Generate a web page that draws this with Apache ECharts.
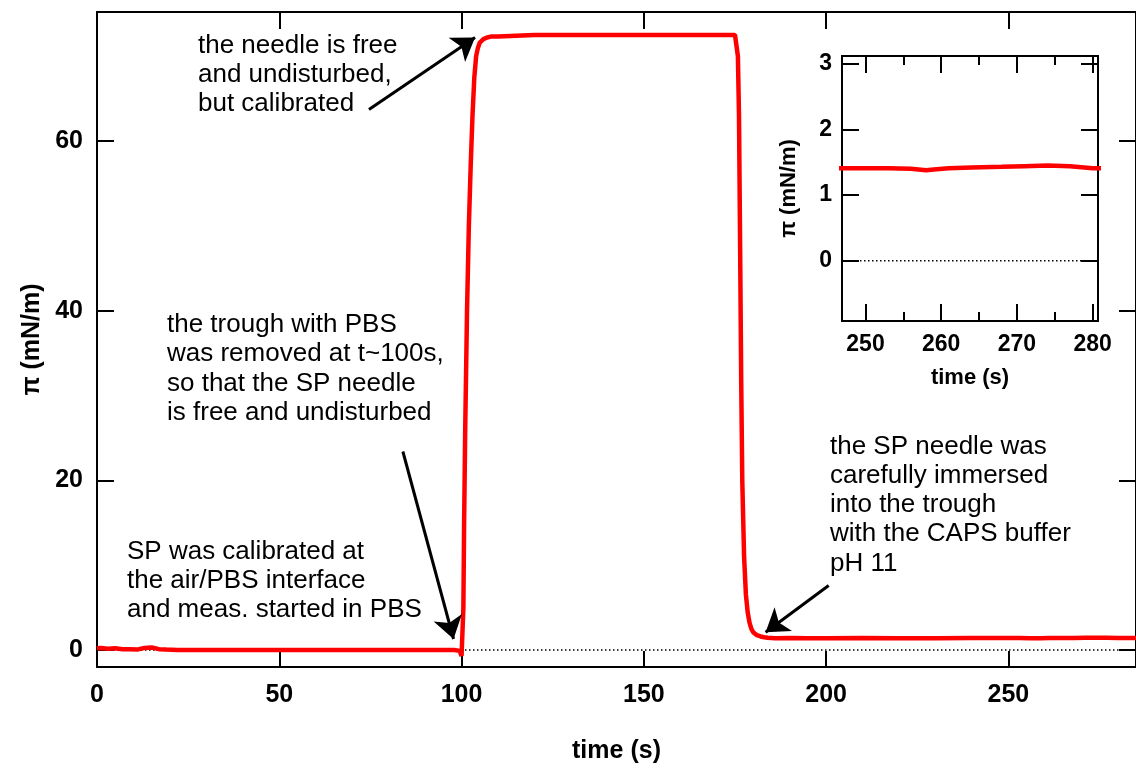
<!DOCTYPE html>
<html><head><meta charset="utf-8">
<script src="https://cdn.jsdelivr.net/npm/echarts@6/dist/echarts.min.js"></script>
<style>html,body{margin:0;padding:0;background:#fff}#c{width:1136px;height:769px}</style>
</head><body><div id="c"></div>
<script>
// ---- data ----
const timeS = [0,1,3,5,7,9,11,13,15,17,19,22,30,40,50,60,70,80,90,95,98,99.5,100,100.3,100.5,100.7,101,101.5,102,102.5,103,103.5,104,104.5,105,106,107,108,110,115,120,125,130,140,150,160,170,174,175,175.5,175.8,176.1,176.4,176.7,177,177.5,178,178.5,179,179.5,180,181,182,183,184,186,190,195,200,210,220,230,240,247,250,253,256,258,259,261,264,268,271,274,277,280,282,285];
const piVals = [0.2,0.25,0.15,0.2,0.1,0.1,0.05,0.25,0.3,0.1,0.05,0,0,0,0,0,0,0,0,0,0,-0.1,-0.7,-0.5,5,15,26,40,50,57,63,67.5,70,71,71.6,72,72.2,72.3,72.3,72.4,72.5,72.5,72.5,72.5,72.5,72.5,72.5,72.5,72.5,72.3,70,63,48,32,20,11,6.5,4.4,3.2,2.5,2.1,1.75,1.6,1.5,1.45,1.4,1.42,1.4,1.4,1.41,1.4,1.4,1.41,1.41,1.41,1.41,1.4,1.38,1.39,1.41,1.42,1.43,1.44,1.45,1.44,1.41,1.41,1.41];
const zeroT = [0, 300];
const zeroV = [0, 0];
const mainXTicks = [0,50,100,150,200,250];
const mainYTicks = [0,20,40,60];
const insetXTicks = [250,260,270,280];
const insetXMinor = [255,265,275];
const insetYTicks = [0,1,2,3];
const arrowFrom = [[74.6,63.7],[83.9,23.4],[200.7,7.6]];
const arrowTo = [[103.7,72.2],[97.8,1.3],[183.4,2.1]];
const notes = [
  'the needle is free\nand undisturbed,\nbut calibrated',
  'the trough with PBS\nwas removed at t~100s,\nso that the SP needle\nis free and undisturbed',
  'SP was calibrated at\nthe air/PBS interface\nand meas. started in PBS',
  'the SP needle was\ncarefully immersed\ninto the trough\nwith the CAPS buffer\npH 11'
];

// ---- chart ----
const FONT = '"Liberation Sans", Arial, sans-serif';
const pts = timeS.map((t,i)=>[t, piVals[i]]);
const zeroPts = zeroT.map((t,i)=>[t, zeroV[i]]);
const black = '#000';
function ax(o){
  const base = {
    type:'value', splitLine:{show:false},
    axisLine:{show:true, onZero:false, lineStyle:{color:black, width:2}},
    axisTick:{show:true, inside:true, length:17, lineStyle:{color:black, width:2}},
    axisLabel:{show:false}
  };
  return Object.assign(base, o);
}
const labelStyle = (size, margin, vals)=>({show:true, color:black, fontSize:size, fontWeight:'bold', fontFamily:FONT, margin:margin, customValues:vals});
const nameStyle = (size)=>({color:black, fontSize:size, fontWeight:'bold', fontFamily:FONT});

const option = {
  animation:false,
  backgroundColor:'#fff',
  grid:[
    {left:97, top:12, right:-4, bottom:101, containLabel:false},
    {left:842, top:56, width:256, height:265, containLabel:false}
  ],
  xAxis:[
    ax({gridIndex:0, position:'bottom', min:0, max:285,
        axisTick:{show:true, inside:true, length:16, customValues:mainXTicks, lineStyle:{color:black,width:2}},
        axisLabel:labelStyle(25,16,mainXTicks),
        name:'time (s)', nameLocation:'middle', nameGap:72, nameTextStyle:nameStyle(25)}),
    ax({gridIndex:0, position:'top', min:0, max:285,
        axisTick:{show:true, inside:true, length:17, customValues:mainXTicks, lineStyle:{color:black,width:2}}}),
    ax({gridIndex:1, position:'bottom', min:246.9, max:280.7,
        axisTick:{show:true, inside:true, length:17, customValues:insetXTicks, lineStyle:{color:black,width:2}},
        axisLabel:labelStyle(23,12,insetXTicks),
        name:'time (s)', nameLocation:'middle', nameGap:46, nameTextStyle:nameStyle(22)}),
    ax({gridIndex:1, position:'top', min:246.9, max:280.7,
        axisTick:{show:true, inside:true, length:17, customValues:insetXTicks, lineStyle:{color:black,width:2}}}),
    ax({gridIndex:1, position:'bottom', min:246.9, max:280.7,
        axisTick:{show:true, inside:true, length:9, customValues:insetXMinor, lineStyle:{color:black,width:2}}}),
    ax({gridIndex:1, position:'top', min:246.9, max:280.7,
        axisTick:{show:true, inside:true, length:9, customValues:insetXMinor, lineStyle:{color:black,width:2}}})
  ],
  yAxis:[
    ax({gridIndex:0, position:'left', min:-2, max:75.2,
        axisTick:{show:true, inside:true, length:17, customValues:mainYTicks, lineStyle:{color:black,width:2}},
        axisLabel:labelStyle(25,14,mainYTicks),
        name:'π (mN/m)', nameLocation:'middle', nameGap:52, nameTextStyle:nameStyle(25)}),
    ax({gridIndex:0, position:'right', min:-2, max:75.2,
        axisTick:{show:true, inside:true, length:17, customValues:mainYTicks, lineStyle:{color:black,width:2}}}),
    ax({gridIndex:1, position:'left', min:-0.92, max:3.12,
        axisTick:{show:true, inside:true, length:17, customValues:insetYTicks, lineStyle:{color:black,width:2}},
        axisLabel:labelStyle(23,10,insetYTicks),
        name:'π (mN/m)', nameLocation:'middle', nameGap:42, nameTextStyle:nameStyle(22)}),
    ax({gridIndex:1, position:'right', min:-0.92, max:3.12,
        axisTick:{show:true, inside:true, length:17, customValues:insetYTicks, lineStyle:{color:black,width:2}}})
  ],
  series:[
    {type:'line', xAxisIndex:0, yAxisIndex:0, data:zeroPts, symbol:'none', silent:true, z:1,
     lineStyle:{color:black, width:1.5, type:[1.5,2.5]}},
    {type:'line', xAxisIndex:0, yAxisIndex:0, data:pts, symbol:'none', silent:true, z:3,
     lineStyle:{color:'#ff0000', width:4.5}},
    {type:'line', xAxisIndex:0, yAxisIndex:0, data:[], symbol:'none', z:4,
     markLine:{silent:true, animation:false, symbol:['none','arrow'], symbolSize:22,
       label:{show:false}, lineStyle:{color:black, width:3, type:'solid'},
       itemStyle:{color:black},
       emphasis:{disabled:true},
       data: arrowFrom.map((a,i)=>[{coord:a},{coord:arrowTo[i]}])}},
    {type:'line', xAxisIndex:2, yAxisIndex:2, data:zeroPts, symbol:'none', silent:true, z:1, clip:true,
     lineStyle:{color:black, width:1.5, type:[1.5,2.5]}},
    {type:'line', xAxisIndex:2, yAxisIndex:2, data:pts, symbol:'none', silent:true, z:3, clip:true,
     lineStyle:{color:'#ff0000', width:4.5}}
  ],
  graphic:[
    {type:'text', left:198, top:31, style:{text:notes[0], font:'26px '+FONT, lineHeight:29, fill:black}},
    {type:'text', left:167, top:310, style:{text:notes[1], font:'26px '+FONT, lineHeight:29.5, fill:black}},
    {type:'text', left:127, top:537, style:{text:notes[2], font:'26px '+FONT, lineHeight:29, fill:black}},
    {type:'text', left:830, top:432, style:{text:notes[3], font:'26px '+FONT, lineHeight:29.2, fill:black}}
  ]
};
const chart = echarts.init(document.getElementById('c'), null, {renderer:'canvas'});
chart.setOption(option);
</script></body></html>
